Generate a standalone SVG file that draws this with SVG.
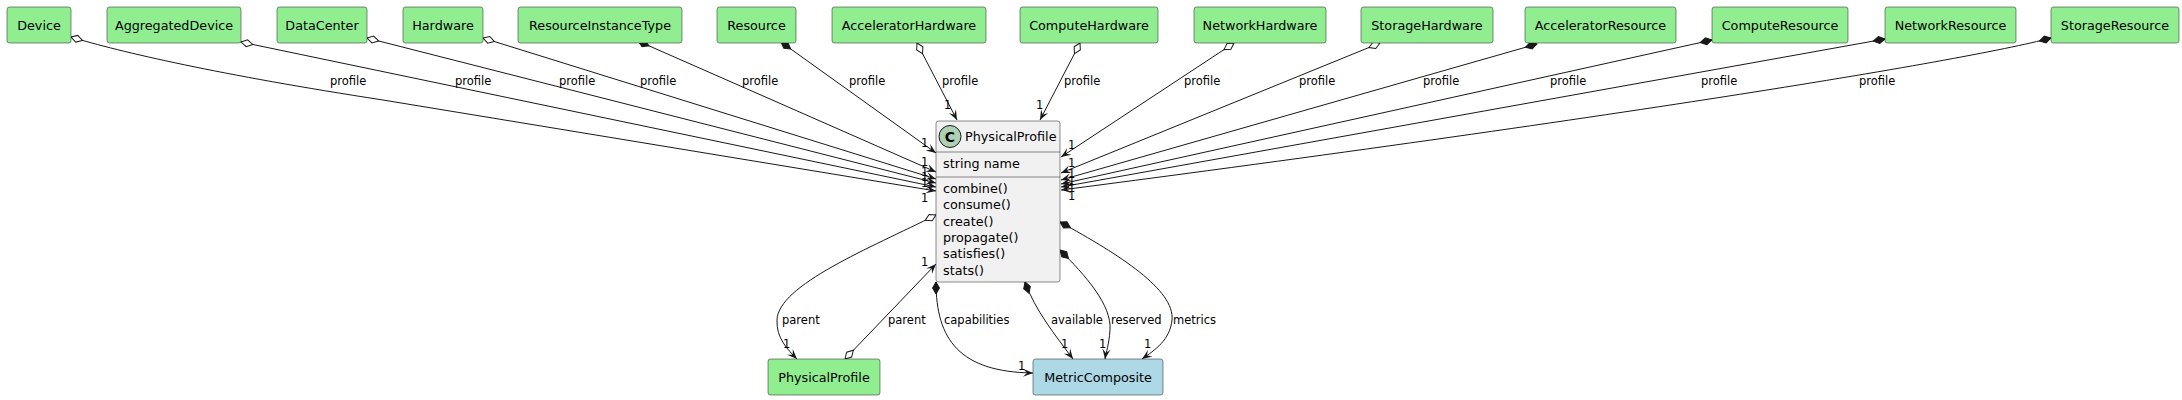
<svg xmlns="http://www.w3.org/2000/svg" width="2182" height="400" viewBox="0 0 2182 400">
<style>
.n rect{stroke:#181818;stroke-width:0.5}
.g{fill:#90EE90}
.b{fill:#ADD8E6}
.t{font-family:"DejaVu Sans",sans-serif;font-size:12.75px;fill:#000}
.c{text-anchor:middle}
.l{font-family:"DejaVu Sans",sans-serif;font-size:11.5px;fill:#000}
.e{fill:none;stroke:#181818;stroke-width:1}
.ho{marker-start:url(#odia);marker-end:url(#arr)}
.fi{marker-start:url(#fdia);marker-end:url(#arr)}
</style>
<defs>
<marker id="arr" viewBox="-11 -5 12 10" markerWidth="12" markerHeight="10" refX="0" refY="0" orient="auto" markerUnits="userSpaceOnUse"><path d="M0,0 L-10,-4 L-6,0 L-10,4 Z" fill="#181818"/></marker>
<marker id="odia" viewBox="-1 -5 14 10" markerWidth="14" markerHeight="10" refX="0" refY="0" orient="auto" markerUnits="userSpaceOnUse"><path d="M0,0 L6,-3.5 L12,0 L6,3.5 Z" fill="#fff" stroke="#181818" stroke-width="1"/></marker>
<marker id="fdia" viewBox="-1 -5 14 10" markerWidth="14" markerHeight="10" refX="0" refY="0" orient="auto" markerUnits="userSpaceOnUse"><path d="M0,0 L6,-3.5 L12,0 L6,3.5 Z" fill="#181818" stroke="#181818" stroke-width="1"/></marker>
</defs>
<rect width="2182" height="400" fill="#fff"/>
<g id="connectors">
<path class="e ho" d="M71,37 C120,52 220,75 383,100 L936,191"/>
<path class="e ho" d="M241,42 L936,187"/>
<path class="e ho" d="M367,38 L936,183"/>
<path class="e ho" d="M483,38 L936,179"/>
<path class="e fi" d="M638,41 L936,172"/>
<path class="e fi" d="M781,42 L936,153"/>
<path class="e ho" d="M917,43 L957,120"/>
<path class="e ho" d="M1080,43 L1040,120"/>
<path class="e ho" d="M1234,43 L1061,157"/>
<path class="e ho" d="M1380,43 L1061,173"/>
<path class="e fi" d="M1537,44 L1061,180"/>
<path class="e fi" d="M1712,40 L1061,184"/>
<path class="e fi" d="M1885,39 L1061,187"/>
<path class="e fi" d="M2051,38 C1960,62 1600,120 1061,190"/>
<path class="e ho" d="M936,215 C870,248 778,285 777,320 C776,338 788,350 797,359"/>
<path class="e ho" d="M845,359 L936,264"/>
<path class="e fi" d="M936,282 C936,340 960,372 1033,373"/>
<path class="e fi" d="M1025,282 C1035,310 1055,335 1073,359"/>
<path class="e fi" d="M1060,250 C1085,275 1112,305 1110,330 C1109,345 1106,352 1105,359"/>
<path class="e fi" d="M1060,222 C1120,255 1175,290 1172,320 C1170,340 1155,350 1142,359"/>
<g class="l">
<text x="330" y="85">profile</text>
<text x="455" y="85">profile</text>
<text x="559" y="85">profile</text>
<text x="640" y="85">profile</text>
<text x="742" y="85">profile</text>
<text x="849" y="85">profile</text>
<text x="942" y="85">profile</text>
<text x="1064" y="85">profile</text>
<text x="1184" y="85">profile</text>
<text x="1299" y="85">profile</text>
<text x="1423" y="85">profile</text>
<text x="1550" y="85">profile</text>
<text x="1701" y="85">profile</text>
<text x="1859" y="85">profile</text>
<text x="944" y="109">1</text>
<text x="1036" y="109">1</text>
<text x="921" y="147">1</text>
<text x="921" y="166">1</text>
<text x="921" y="176">1</text>
<text x="921" y="181">1</text>
<text x="921" y="187">1</text>
<text x="921" y="202">1</text>
<text x="1068" y="149">1</text>
<text x="1068" y="167">1</text>
<text x="1068" y="178">1</text>
<text x="1068" y="185">1</text>
<text x="1068" y="192">1</text>
<text x="1068" y="200">1</text>
<text x="782" y="324">parent</text>
<text x="888" y="324">parent</text>
<text x="944" y="324">capabilities</text>
<text x="1051" y="324">available</text>
<text x="1111" y="324">reserved</text>
<text x="1173" y="324">metrics</text>
<text x="783" y="348">1</text>
<text x="921" y="266">1</text>
<text x="1018" y="370">1</text>
<text x="1061" y="348">1</text>
<text x="1099" y="348">1</text>
<text x="1144" y="348">1</text>
</g>
</g>
<g id="Device" class="n"><rect class="g" x="7" y="7" width="64" height="36" rx="2.5"/><text class="t c" x="39" y="29.5">Device</text></g>
<g id="AggregatedDevice" class="n"><rect class="g" x="107" y="7" width="134" height="36" rx="2.5"/><text class="t c" x="174" y="29.5">AggregatedDevice</text></g>
<g id="DataCenter" class="n"><rect class="g" x="277" y="7" width="90" height="36" rx="2.5"/><text class="t c" x="322" y="29.5">DataCenter</text></g>
<g id="Hardware" class="n"><rect class="g" x="403" y="7" width="80" height="36" rx="2.5"/><text class="t c" x="443" y="29.5">Hardware</text></g>
<g id="ResourceInstanceType" class="n"><rect class="g" x="518" y="7" width="164" height="36" rx="2.5"/><text class="t c" x="600" y="29.5">ResourceInstanceType</text></g>
<g id="Resource" class="n"><rect class="g" x="717" y="7" width="79" height="36" rx="2.5"/><text class="t c" x="756.5" y="29.5">Resource</text></g>
<g id="AcceleratorHardware" class="n"><rect class="g" x="832" y="7" width="154" height="36" rx="2.5"/><text class="t c" x="909" y="29.5">AcceleratorHardware</text></g>
<g id="ComputeHardware" class="n"><rect class="g" x="1020" y="7" width="138" height="36" rx="2.5"/><text class="t c" x="1089" y="29.5">ComputeHardware</text></g>
<g id="NetworkHardware" class="n"><rect class="g" x="1194" y="7" width="132" height="36" rx="2.5"/><text class="t c" x="1260" y="29.5">NetworkHardware</text></g>
<g id="StorageHardware" class="n"><rect class="g" x="1361" y="7" width="132" height="36" rx="2.5"/><text class="t c" x="1427" y="29.5">StorageHardware</text></g>
<g id="AcceleratorResource" class="n"><rect class="g" x="1525" y="7" width="151" height="36" rx="2.5"/><text class="t c" x="1600.5" y="29.5">AcceleratorResource</text></g>
<g id="ComputeResource" class="n"><rect class="g" x="1712" y="7" width="136" height="36" rx="2.5"/><text class="t c" x="1780" y="29.5">ComputeResource</text></g>
<g id="NetworkResource" class="n"><rect class="g" x="1885" y="7" width="131" height="36" rx="2.5"/><text class="t c" x="1950.5" y="29.5">NetworkResource</text></g>
<g id="StorageResource" class="n"><rect class="g" x="2051" y="7" width="128" height="36" rx="2.5"/><text class="t c" x="2115" y="29.5">StorageResource</text></g>
<g id="PhysicalProfileClass" class="n">
<rect x="936" y="121" width="124" height="161" rx="2.5" fill="#F1F1F1"/>
<line x1="936" y1="152" x2="1060" y2="152" stroke="#181818" stroke-width="0.5"/>
<line x1="936" y1="177" x2="1060" y2="177" stroke="#181818" stroke-width="0.5"/>
<circle cx="950" cy="136.5" r="11" fill="#ADD1B2" stroke="#181818" stroke-width="1"/>
<text x="950" y="141.5" class="c" style="font-family:'DejaVu Sans',sans-serif;font-size:14px;font-weight:bold;fill:#000">C</text>
<text class="t" x="965" y="141">PhysicalProfile</text>
<text class="t" x="943" y="168">string name</text>
<text class="t" x="943" y="193">combine()</text>
<text class="t" x="943" y="209.3">consume()</text>
<text class="t" x="943" y="225.6">create()</text>
<text class="t" x="943" y="241.9">propagate()</text>
<text class="t" x="943" y="258.2">satisfies()</text>
<text class="t" x="943" y="274.5">stats()</text>
</g>
<g id="PhysicalProfileParent" class="n"><rect class="g" x="768" y="359" width="112" height="36" rx="2.5"/><text class="t c" x="824" y="381.5">PhysicalProfile</text></g>
<g id="MetricComposite" class="n"><rect class="b" x="1033" y="359" width="130" height="36" rx="2.5"/><text class="t c" x="1098" y="381.5">MetricComposite</text></g>
</svg>
